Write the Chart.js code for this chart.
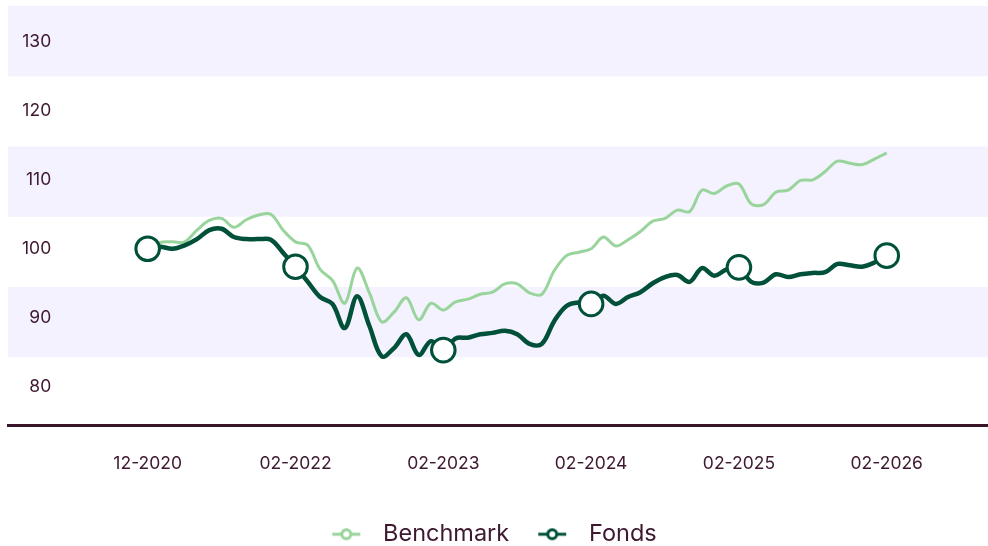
<!DOCTYPE html>
<html>
<head>
<meta charset="utf-8">
<script src="https://cdn.jsdelivr.net/npm/chart.js@4.4.1/dist/chart.umd.min.js"></script>
<style>
  html, body { margin: 0; padding: 0; background: #ffffff; }
  #wrap { width: 988px; height: 546px; }
</style>
</head>
<body>
<div id="wrap"><canvas id="perfChart"></canvas></div>
<script>
/* --------- データ --------- */
// X軸ラベル（目盛りは 12 点ごと）
const tickLabels = ["12-2020", "02-2022", "02-2023", "02-2024", "02-2025", "02-2026"];

// Y軸の目盛りと範囲
const yTicks = [80, 90, 100, 110, 120, 130];
const yMin = 74.37;
const yMax = 135.2;

// 背景の帯（下限, 上限）
const bandRanges = [[125.0, 135.2], [104.64, 114.83], [84.26, 94.45]];

// ベンチマーク
const benchmark = [
  100.0, 100.9, 101.0, 101.0, 102.7, 104.1, 104.4, 103.1, 104.2, 104.9,
  105.0, 102.7, 101.0, 100.5, 97.0, 95.4, 92.1, 97.2, 93.6, 89.4,
  90.8, 92.9, 89.7, 92.1, 91.1, 92.3, 92.7, 93.4, 93.7, 94.9,
  94.9, 93.6, 93.4, 96.8, 99.0, 99.5, 100.0, 101.7, 100.4, 101.3,
  102.5, 104.0, 104.4, 105.6, 105.4, 108.5, 108.0, 109.1, 109.4, 106.5,
  106.4, 108.2, 108.5, 109.9, 110.0, 111.2, 112.7, 112.4, 112.2, 113.0,
  113.9,
];

// ファンド
const fonds = [
  100.0, 100.3, 100.0, 100.5, 101.4, 102.7, 102.9, 101.7, 101.4, 101.4,
  101.3, 99.4, 97.4, 95.2, 93.0, 92.0, 88.5, 93.1, 88.8, 84.4,
  85.6, 87.6, 84.6, 86.6, 85.3, 87.0, 87.1, 87.6, 87.8, 88.1,
  87.6, 86.2, 86.2, 89.5, 91.7, 92.2, 92.0, 93.2, 92.0, 93.0,
  93.7, 95.0, 95.9, 96.2, 95.2, 97.2, 96.1, 97.0, 97.3, 95.2,
  95.1, 96.3, 95.9, 96.3, 96.5, 96.6, 97.8, 97.6, 97.4, 98.0,
  99.0,
];

const POINTS_PER_TICK = 12;

/* --------- 色 --------- */
const colBench = "#98d49b";
const colFonds = "#00503a";
const colText = "#3d1830";
const colBand = "#f4f2fe";

/* --------- ヘルパー --------- */
function toXY(values) {
  return values.map((v, i) => ({ x: i / POINTS_PER_TICK, y: v }));
}

// 凡例用のマーカー（線＋丸）
function legendMarker(color) {
  const c = document.createElement("canvas");
  c.width = 30;
  c.height = 16;
  const g = c.getContext("2d");
  g.strokeStyle = color;
  g.lineWidth = 3;
  g.beginPath();
  g.moveTo(1, 8);
  g.lineTo(29, 8);
  g.stroke();
  g.fillStyle = "#ffffff";
  g.beginPath();
  g.arc(15, 8, 4.5, 0, Math.PI * 2);
  g.fill();
  g.stroke();
  return c;
}

// 背景の帯を描くプラグイン（目盛りより先に描く）
const bandPlugin = {
  id: "bands",
  beforeDraw(chart) {
    const { ctx, chartArea, scales } = chart;
    ctx.save();
    ctx.fillStyle = colBand;
    bandRanges.forEach(([lo, hi]) => {
      const top = scales.y.getPixelForValue(hi);
      const bot = scales.y.getPixelForValue(lo);
      ctx.fillRect(chartArea.left, top, chartArea.right - chartArea.left, bot - top);
    });
    ctx.restore();
  },
};

// 凡例の位置を少しずらす
const legendShift = {
  id: "legendShift",
  afterLayout(chart) {
    const lg = chart.legend;
    if (!lg) return;
    lg.left -= 9;
    lg.right -= 9;
    lg.top += 10;
    lg.bottom += 10;
  },
};

/* --------- グラフ描画 --------- */
const markBench = legendMarker(colBench);
const markFonds = legendMarker(colFonds);

new Chart(document.getElementById("perfChart"), {
  type: "line",
  data: {
    datasets: [
      {
        label: "Benchmark",
        data: toXY(benchmark),
        borderColor: colBench,
        borderWidth: 3,
        pointRadius: 0,
        tension: 0.35,
        order: 1,
      },
      {
        label: "Fonds",
        data: toXY(fonds),
        borderColor: colFonds,
        borderWidth: 4.5,
        tension: 0.35,
        pointRadius: (c) => (c.dataIndex % POINTS_PER_TICK === 0 ? 11.8 : 0),
        pointBackgroundColor: "#ffffff",
        pointBorderColor: colFonds,
        pointBorderWidth: 3,
        order: 0,
      },
    ],
  },
  plugins: [bandPlugin, legendShift],
  options: {
    responsive: true,
    maintainAspectRatio: false,
    animation: false,
    layout: { autoPadding: false, padding: { top: 6, left: 8, right: 0, bottom: 0 } },
    plugins: {
      tooltip: { enabled: false },
      legend: {
        position: "bottom",
        labels: {
          usePointStyle: true,
          pointStyleWidth: 50,
          padding: 18,
          color: colText,
          font: { family: "Inter", size: 23.5 },
          generateLabels: () => [
            { text: "Benchmark", pointStyle: markBench, fillStyle: colBench, strokeStyle: colBench, lineWidth: 0, hidden: false, datasetIndex: 0, fontColor: colText },
            { text: "Fonds", pointStyle: markFonds, fillStyle: colFonds, strokeStyle: colFonds, lineWidth: 0, hidden: false, datasetIndex: 1, fontColor: colText },
          ],
        },
      },
    },
    scales: {
      x: {
        type: "linear",
        min: -0.945,
        max: 5.685,
        grid: { display: false },
        border: { display: true, color: "#3a1428", width: 3 },
        afterBuildTicks: (s) => {
          s.ticks = tickLabels.map((_, i) => ({ value: i }));
        },
        afterFit: (s) => {
          s.paddingLeft = 0;
          s.paddingRight = 0;
        },
        ticks: {
          color: colText,
          font: { family: "Inter", size: 17.5 },
          padding: 20,
          maxRotation: 0,
          autoSkip: false,
          callback: (v) => tickLabels[v] ?? "",
        },
      },
      y: {
        min: yMin,
        max: yMax,
        grid: { display: false, drawTicks: false },
        border: { display: false },
        afterBuildTicks: (s) => {
          s.ticks = yTicks.map((v) => ({ value: v }));
        },
        afterFit: (s) => {
          s.width = 0;
          s.paddingTop = 0;
          s.paddingBottom = 0;
        },
        ticks: {
          mirror: true,
          crossAlign: "far",
          autoSkip: false,
          padding: 14,
          color: colText,
          font: { family: "Inter", size: 17.5 },
        },
      },
    },
  },
});
</script>
</body>
</html>
